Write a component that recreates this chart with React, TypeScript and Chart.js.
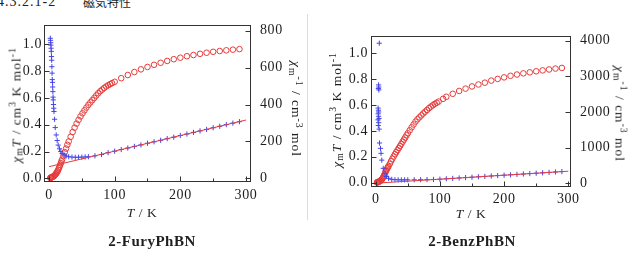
import React, { useEffect, useRef } from "react";
import { Chart, registerables } from "chart.js";

Chart.register(...registerables);

// ---------- 2-FuryPhBN ----------
// chi_m T (cm3 K mol-1) versus T (K)
const furyTemp = [2, 2.5, 3, 3.5, 4, 4.5, 5, 6, 7, 8, 9, 10, 11, 12, 13, 14, 15, 16, 17, 18, 19, 20, 22, 24, 26, 28, 30, 33, 36, 39, 42, 45, 48, 51, 54, 57, 60, 63, 66, 69, 72, 75, 78, 81, 84, 87, 90, 93, 96, 100, 110, 120, 130, 140, 150, 160, 170, 180, 190, 200, 210, 220, 230, 240, 250, 260, 270, 280, 290];
const furyChiT = [0.003, 0.004, 0.005, 0.006, 0.007, 0.008, 0.010, 0.012, 0.015, 0.019, 0.024, 0.030, 0.036, 0.044, 0.053, 0.063, 0.075, 0.087, 0.100, 0.113, 0.126, 0.140, 0.167, 0.195, 0.222, 0.250, 0.275, 0.310, 0.345, 0.378, 0.408, 0.436, 0.462, 0.485, 0.507, 0.528, 0.548, 0.566, 0.583, 0.600, 0.618, 0.635, 0.650, 0.662, 0.674, 0.685, 0.694, 0.702, 0.710, 0.720, 0.747, 0.771, 0.793, 0.813, 0.831, 0.847, 0.862, 0.876, 0.889, 0.900, 0.911, 0.920, 0.929, 0.937, 0.944, 0.950, 0.955, 0.960, 0.964];
// chi_m^-1 (cm-3 mol) versus T (K)
const furyInvTemp = [2, 2.3, 2.6, 2.9, 3.2, 3.5, 3.8, 4.1, 4.4, 4.7, 5, 5.3, 5.6, 5.9, 6.2, 6.5, 6.8, 7.2, 7.6, 8.5, 9.5, 11, 12.5, 14, 16, 18, 20, 23, 26, 30, 35, 40, 45, 50, 55, 60, 70, 80, 90, 100, 110, 120, 130, 140, 150, 160, 170, 180, 190, 200, 210, 220, 230, 240, 250, 260, 270, 280, 290];
const furyChiInv = [759, 748, 735, 722, 705, 688, 660, 640, 605, 570, 535, 520, 495, 470, 440, 425, 400, 380, 362, 320, 275, 235, 205, 180, 160, 145, 135, 126, 121, 117, 115, 114, 114, 115, 116, 117, 122, 129, 139, 147, 156, 164, 173, 181, 190, 198, 206, 215, 223, 232, 240, 249, 257, 265, 274, 282, 291, 299, 307];
// Curie-Weiss fit of chi_m^-1
const furyFitTemp = [0, 300];
const furyFitInv = [63, 316];

// ---------- 2-BenzPhBN ----------
const benzTemp = [2, 2.5, 3, 3.5, 4, 5, 6, 7, 8, 9, 10, 11, 12, 13, 14, 15, 16, 17, 18, 19, 20, 22, 24, 26, 28, 30, 32, 34, 36, 38, 40, 42, 44, 46, 48, 50, 53, 56, 59, 62, 65, 68, 71, 74, 77, 80, 83, 86, 89, 92, 95, 98, 105, 110, 120, 130, 140, 150, 160, 170, 180, 190, 200, 210, 220, 230, 240, 250, 260, 270, 280, 290];
const benzChiT = [0.002, 0.003, 0.004, 0.005, 0.006, 0.008, 0.010, 0.013, 0.017, 0.022, 0.028, 0.036, 0.045, 0.055, 0.067, 0.079, 0.090, 0.100, 0.110, 0.120, 0.128, 0.146, 0.166, 0.185, 0.203, 0.220, 0.236, 0.252, 0.268, 0.284, 0.300, 0.317, 0.333, 0.349, 0.366, 0.382, 0.405, 0.428, 0.450, 0.472, 0.490, 0.505, 0.520, 0.535, 0.549, 0.562, 0.576, 0.588, 0.599, 0.609, 0.618, 0.627, 0.648, 0.664, 0.687, 0.709, 0.727, 0.744, 0.759, 0.773, 0.789, 0.802, 0.814, 0.826, 0.836, 0.845, 0.853, 0.861, 0.868, 0.875, 0.882, 0.887];
const benzInvTemp = [3.6, 3.8, 3.9, 4.1, 4.2, 4.3, 4.4, 4.5, 4.6, 4.7, 4.8, 5.0, 5.2, 5.4, 5.6, 6, 7.5, 8.3, 9.5, 11.8, 14.5, 17, 20, 25, 30, 35, 40, 45, 50, 60, 70, 80, 90, 100, 110, 120, 130, 140, 150, 160, 170, 180, 190, 200, 210, 220, 230, 240, 250, 260, 270, 280, 290];
const benzChiInv = [1780, 2110, 1950, 1620, 2660, 2050, 1880, 2760, 2000, 1700, 2700, 2620, 1820, 1520, 3930, 1130, 980, 840, 650, 420, 280, 190, 140, 110, 100, 97, 96, 96, 97, 99, 101, 104, 108, 115, 126, 137, 149, 160, 171, 182, 193, 205, 216, 227, 238, 249, 261, 272, 283, 294, 305, 317, 328];
const benzFitTemp = [5, 300];
const benzFitInv = [9, 339];

// ---------- axis ticks ----------
const tempTicks = [0, 100, 200, 300];
const tempMinorTicks = [50, 150, 250];
const chiTTicks = [0, 0.2, 0.4, 0.6, 0.8, 1.0];
const furyInvTicks = [0, 200, 400, 600, 800];
const benzInvTicks = [0, 1000, 2000, 3000, 4000];

const RED = "#e63a3a";
const BLUE = "#4646e8";
const AXIS = "#333333";
const TEXT = "#1e1e1e";
const SERIF = '"Liberation Serif", "Times New Roman", serif';

const pairs = (xs: number[], ys: number[]) => xs.map((x, i) => ({ x, y: ys[i] }));

type Panel = {
  temp: number[];
  chiT: number[];
  invTemp: number[];
  inv: number[];
  fitTemp: number[];
  fitInv: number[];
  invTicks: number[];
  xRange: [number, number];
  chiRange: [number, number];
  invRange: [number, number];
  padTop: number;
  leftW: number;
  rightW: number;
  bottomH: number;
  leftPad: number;
  rightPad: number;
  xPad: number;
};

// frame box with inward tick marks, and letter spacing for the tick labels
const frameTicks = {
  id: "frameTicks",
  beforeUpdate(chart: any) {
    chart.ctx.letterSpacing = "0.6px";
  },
  beforeDraw(chart: any) {
    chart.ctx.letterSpacing = "0.6px";
  },
  afterDraw(chart: any) {
    const { ctx, chartArea: a, scales } = chart;
    const inv = chart.options.plugins.frameTicks.invTicks as number[];
    const L = Math.round(a.left) + 0.5;
    const R = Math.round(a.right) - 0.5;
    const T = Math.round(a.top) + 0.5;
    const B = Math.round(a.bottom) - 0.5;
    ctx.save();
    ctx.strokeStyle = AXIS;
    ctx.lineWidth = 1;
    ctx.strokeRect(L, T, R - L, B - T);
    ctx.beginPath();
    tempTicks.forEach((v) => {
      const px = Math.round(scales.x.getPixelForValue(v)) + 0.5;
      ctx.moveTo(px, B);
      ctx.lineTo(px, B - 5);
    });
    tempMinorTicks.forEach((v) => {
      const px = Math.round(scales.x.getPixelForValue(v)) + 0.5;
      ctx.moveTo(px, B);
      ctx.lineTo(px, B - 3);
    });
    chiTTicks.forEach((v) => {
      const py = Math.round(scales.yL.getPixelForValue(v)) + 0.5;
      ctx.moveTo(L, py);
      ctx.lineTo(L + 5, py);
    });
    inv.forEach((v) => {
      const py = Math.round(scales.yR.getPixelForValue(v)) + 0.5;
      ctx.moveTo(R, py);
      ctx.lineTo(R - 5, py);
    });
    ctx.stroke();
    ctx.restore();
  },
};

const tickFont = { family: SERIF, size: 14 };

function buildConfig(p: Panel): any {
  return {
    type: "scatter",
    data: {
      datasets: [
        {
          label: "fit",
          data: pairs(p.fitTemp, p.fitInv),
          yAxisID: "yR",
          showLine: true,
          borderColor: RED,
          borderWidth: 1,
          pointRadius: 0,
          fill: false,
        },
        {
          label: "chiInv",
          data: pairs(p.invTemp, p.inv),
          yAxisID: "yR",
          pointStyle: "cross",
          pointRadius: 2.6,
          borderColor: BLUE,
          backgroundColor: BLUE,
          pointBorderWidth: 1,
        },
        {
          label: "chiT",
          data: pairs(p.temp, p.chiT),
          yAxisID: "yL",
          pointStyle: "circle",
          pointRadius: 2.8,
          borderColor: RED,
          backgroundColor: "rgba(0,0,0,0)",
          pointBorderWidth: 1,
        },
      ],
    },
    options: {
      animation: false,
      responsive: false,
      devicePixelRatio: 1,
      events: [],
      layout: { padding: { top: p.padTop, left: 0, right: 0, bottom: 0 } },
      plugins: {
        legend: { display: false },
        tooltip: { enabled: false },
        colors: { enabled: false },
        frameTicks: { invTicks: p.invTicks },
      },
      scales: {
        x: {
          type: "linear",
          position: "bottom",
          min: p.xRange[0],
          max: p.xRange[1],
          grid: { display: false, drawTicks: false },
          border: { display: false },
          ticks: { font: tickFont, color: TEXT, padding: p.xPad, autoSkip: false, maxRotation: 0, callback: (v: number) => String(v) },
          afterBuildTicks: (s: any) => {
            s.ticks = tempTicks.map((value) => ({ value }));
          },
          afterFit: (s: any) => {
            s.height = p.bottomH;
          },
        },
        yL: {
          type: "linear",
          position: "left",
          min: p.chiRange[0],
          max: p.chiRange[1],
          grid: { display: false, drawTicks: false },
          border: { display: false },
          ticks: { font: tickFont, color: TEXT, padding: p.leftPad, autoSkip: false, callback: (v: number) => v.toFixed(1) },
          afterBuildTicks: (s: any) => {
            s.ticks = chiTTicks.map((value) => ({ value }));
          },
          afterFit: (s: any) => {
            s.width = p.leftW;
          },
        },
        yR: {
          type: "linear",
          position: "right",
          min: p.invRange[0],
          max: p.invRange[1],
          grid: { display: false, drawTicks: false },
          border: { display: false },
          ticks: { font: tickFont, color: TEXT, padding: p.rightPad, autoSkip: false, callback: (v: number) => String(v) },
          afterBuildTicks: (s: any) => {
            s.ticks = p.invTicks.map((value) => ({ value }));
          },
          afterFit: (s: any) => {
            s.width = p.rightW;
          },
        },
      },
    },
    plugins: [frameTicks],
  };
}

const furyPanel: Panel = {
  temp: furyTemp,
  chiT: furyChiT,
  invTemp: furyInvTemp,
  inv: furyChiInv,
  fitTemp: furyFitTemp,
  fitInv: furyFitInv,
  invTicks: furyInvTicks,
  xRange: [-7.6, 307.6],
  chiRange: [-0.0276, 1.144],
  invRange: [-20, 831],
  padTop: 25,
  leftW: 44,
  rightW: 59,
  bottomH: 48,
  leftPad: 2,
  rightPad: 9,
  xPad: 5,
};

const benzPanel: Panel = {
  temp: benzTemp,
  chiT: benzChiT,
  invTemp: benzInvTemp,
  inv: benzChiInv,
  fitTemp: benzFitTemp,
  fitInv: benzFitInv,
  invTicks: benzInvTicks,
  xRange: [-7.3, 304.2],
  chiRange: [-0.0332, 1.1337],
  invRange: [-104, 4132],
  padTop: 36,
  leftW: 53,
  rightW: 63,
  bottomH: 43,
  leftPad: 3,
  rightPad: 9,
  xPad: 4,
};

function PanelChart({ panel, left, width }: { panel: Panel; left: number; width: number }) {
  const ref = useRef<HTMLCanvasElement | null>(null);
  useEffect(() => {
    if (!ref.current) return;
    const chart = new Chart(ref.current, buildConfig(panel));
    return () => chart.destroy();
  }, [panel]);
  return (
    <canvas
      ref={ref}
      width={width}
      height={230}
      style={{ position: "absolute", left, top: 0, width, height: 230 }}
    />
  );
}

const subS: React.CSSProperties = { fontSize: "0.72em", verticalAlign: "-0.25em", lineHeight: 0 };
const supS: React.CSSProperties = { fontSize: "0.72em", verticalAlign: "0.5em", lineHeight: 0 };

function Label({ x, y, rotate = 0, style, children }: { x: number; y: number; rotate?: number; style?: React.CSSProperties; children: React.ReactNode }) {
  return (
    <div
      style={{
        position: "absolute",
        left: x,
        top: y,
        transform: `translate(-50%, -50%) rotate(${rotate}deg)`,
        whiteSpace: "nowrap",
        fontFamily: SERIF,
        fontSize: 13.5,
        lineHeight: "15px",
        letterSpacing: "1px",
        color: TEXT,
        ...style,
      }}
    >
      {children}
    </div>
  );
}

const ChiTTitle = () => (
  <span>
    <i>χ</i>
    <sub style={subS}>m</sub>
    <i>T</i> / cm<sup style={supS}>3</sup> K mol<sup style={supS}>-1</sup>
  </span>
);

const ChiInvTitle = () => (
  <span>
    <i>χ</i>
    <sub style={subS}>m</sub>
    <sup style={supS}>-1</sup> / cm<sup style={supS}>-3</sup> mol
  </span>
);

const TempTitle = () => (
  <span>
    <i>T</i> / K
  </span>
);

export default function App() {
  return (
    <div
      style={{
        position: "absolute",
        left: 0,
        top: 0,
        width: 634,
        height: 258,
        overflow: "hidden",
        background: "#ffffff",
        fontFamily: SERIF,
        color: TEXT,
      }}
    >
      <div style={{ position: "absolute", left: -3, top: -5, fontSize: 14, lineHeight: "14px", letterSpacing: "1px", whiteSpace: "nowrap" }}>
        4.3.2.1-2
      </div>
      <div style={{ position: "absolute", left: 83, top: -4, fontSize: 12, lineHeight: "12px", fontFamily: '"Noto Sans CJK JP", sans-serif', whiteSpace: "nowrap" }}>
        磁気特性
      </div>

      <PanelChart panel={furyPanel} left={0} width={310} />
      <PanelChart panel={benzPanel} left={318} width={316} />

      <div style={{ position: "absolute", left: 307, top: 14, width: 1, height: 206, background: "#dcdcdc" }} />

      <Label x={16.3} y={105} rotate={-90}>
        <ChiTTitle />
      </Label>
      <Label x={296} y={108.5} rotate={90}>
        <ChiInvTitle />
      </Label>
      <Label x={142} y={211.5} style={{ letterSpacing: "0.5px" }}>
        <TempTitle />
      </Label>

      <Label x={336} y={110} rotate={-90}>
        <ChiTTitle />
      </Label>
      <Label x={620} y={113.5} rotate={90}>
        <ChiInvTitle />
      </Label>
      <Label x={471} y={212.5} style={{ letterSpacing: "0.5px" }}>
        <TempTitle />
      </Label>

      <Label x={152} y={241} style={{ fontSize: 15, fontWeight: "bold", letterSpacing: "0.5px" }}>
        2-FuryPhBN
      </Label>
      <Label x={472} y={241} style={{ fontSize: 15, fontWeight: "bold", letterSpacing: "0.5px" }}>
        2-BenzPhBN
      </Label>
    </div>
  );
}
